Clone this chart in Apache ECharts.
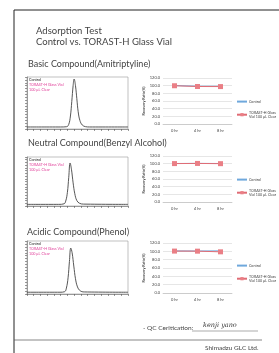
<!DOCTYPE html>
<html>
<head>
<meta charset="utf-8">
<script src="https://cdn.jsdelivr.net/npm/echarts@6/dist/echarts.min.js"></script>
<style>
html,body{margin:0;padding:0;background:#fff;}
#main{width:279px;height:353px;}
</style>
</head>
<body>
<div id="main"></div>
<script>
// 回收率 (%)
var hours = ['0 hr', '4 hr', '8 hr'];
var basicControl = [100.2, 98.6, 98.4];
var basicTorast = [99.8, 97.8, 97.6];
var neutralControl = [100.4, 100.8, 100.4];
var neutralTorast = [100.2, 100.6, 100.0];
var acidicControl = [101.0, 100.8, 101.2];
var acidicTorast = [100.6, 100.4, 98.8];

// chromatogram traces [time, response]
var basicPeak = [[0,0.7],[5,0.7],[5.9,0.8],[6.2,1.6],[6.45,4.5],[6.65,9.5],[6.85,15],[7.0,17.3],[7.2,15],[7.4,10.5],[7.6,6],[7.85,3],[8.2,1.4],[8.7,0.8],[9.3,0.7],[15,0.7]];
var neutralPeak = [[0,0.6],[4.7,0.6],[5.5,0.8],[5.75,1.8],[6.0,5],[6.2,10.5],[6.4,15.8],[6.6,13.5],[6.85,8.5],[7.1,4.5],[7.4,2],[7.8,1],[8.4,0.7],[15,0.6]];
var acidicPeak = [[0,0.6],[4.9,0.6],[5.6,0.8],[5.85,2],[6.1,5.5],[6.3,11],[6.5,15.6],[6.7,14],[6.95,9.5],[7.2,5.2],[7.5,2.4],[7.9,1.1],[8.5,0.7],[15,0.6]];

var chart = echarts.init(document.getElementById('main'));
var txt = '#444';

function chromGrid(top, bottom){
    return {left:27, right:151, top:top, bottom:bottom, show:true, borderColor:'#999', borderWidth:0.6};
}
function lineGrid(top, bottom){
    return {left:163, right:47, top:top, bottom:bottom};
}
var grids = [
    chromGrid(77, 224), chromGrid(157, 147), chromGrid(241, 59),
    lineGrid(78, 229), lineGrid(156, 151), lineGrid(243, 60)
];

var xAxes = [], yAxes = [], series = [], legends = [];
for (var i = 0; i < 3; i++) {
    xAxes.push({gridIndex:i, type:'value', min:0, max:15, interval:1,
        axisLine:{lineStyle:{color:'#666', width:0.6}},
        axisTick:{inside:false, length:2, lineStyle:{color:'#555', width:0.6}},
        axisLabel:{show:false}, splitLine:{show:false}});
    yAxes.push({gridIndex:i, type:'value', min:0, max:18, interval:1,
        axisLine:{show:true, lineStyle:{color:'#666', width:0.6}},
        axisTick:{show:true, length:2, lineStyle:{color:'#555', width:0.6}},
        axisLabel:{show:false}, splitLine:{show:false}});
}
for (var j = 0; j < 3; j++) {
    xAxes.push({gridIndex:3 + j, type:'category', data:hours, boundaryGap:true,
        axisLine:{lineStyle:{color:'#bbb', width:0.6}}, axisTick:{show:false},
        axisLabel:{fontSize:4, color:txt, margin:5, fontFamily:'Lato'}});
    yAxes.push({gridIndex:3 + j, type:'value', min:0, max:120, interval:20,
        name:'Recovery Ratio(%)', nameLocation:'middle', nameGap:13, nameRotate:90,
        nameTextStyle:{fontSize:3.6, fontWeight:'bold', color:txt, fontFamily:'Lato'},
        axisLine:{show:false}, axisTick:{show:false},
        axisLabel:{fontSize:4, color:txt, margin:3, fontFamily:'Lato',
            formatter:function(v){return v.toFixed(1);}},
        splitLine:{lineStyle:{color:'#ccc', width:0.5}}});
}
var peaks = [basicPeak, neutralPeak, acidicPeak];
peaks.forEach(function(p, k){
    series.push({type:'line', xAxisIndex:k, yAxisIndex:k, data:p, smooth:0.4,
        showSymbol:false, lineStyle:{color:'#444', width:0.9}, silent:true});
});
var ctrl = [basicControl, neutralControl, acidicControl];
var tor = [basicTorast, neutralTorast, acidicTorast];
var legendTops = [99, 177, 263];
for (var m = 0; m < 3; m++) {
    series.push({name:'Control', type:'line', xAxisIndex:3 + m, yAxisIndex:3 + m,
        data:ctrl[m], showSymbol:false, lineStyle:{color:'#6fa8dc', width:1}, itemStyle:{color:'#6fa8dc'}});
    series.push({name:'TORAST-H Glass\nVial 100 μL Clear', type:'line', xAxisIndex:3 + m, yAxisIndex:3 + m,
        data:tor[m], symbol:'rect', symbolSize:5, lineStyle:{color:'#e06c75', width:1}, itemStyle:{color:'#ea7f86'}});
    legends.push({left:236, top:legendTops[m], padding:0, orient:'vertical', itemGap:6, itemWidth:10, itemHeight:4,
        textStyle:{fontSize:3.6, color:txt, fontFamily:'Lato', lineHeight:4.5, padding:[0,0,0,-3]},
        data:[{name:'Control', itemStyle:{opacity:0}}, 'TORAST-H Glass\nVial 100 μL Clear'], selectedMode:false});
}

function label(x, y, s, size, extra){
    var st = {text:s, fontSize:size, fill:txt, fontFamily:'Lato'};
    for (var k in (extra || {})) st[k] = extra[k];
    return {type:'text', left:x, top:y, style:st, silent:true};
}
var graphics = [
    {type:'line', shape:{x1:14, y1:10, x2:279, y2:10}, style:{stroke:'#222', lineWidth:1}},
    {type:'line', shape:{x1:14, y1:10, x2:14, y2:353}, style:{stroke:'#222', lineWidth:1}},
    {type:'line', shape:{x1:14, y1:340, x2:262, y2:340}, style:{stroke:'#555', lineWidth:0.7}},
    label(36, 26, 'Adsorption Test', 9.5),
    label(36, 37, 'Control vs. TORAST-H Glass Vial', 9.5),
    label(28, 60, 'Basic Compound(Amitriptyline)', 9),
    label(28, 139, 'Neutral Compound(Benzyl Alcohol)', 9),
    label(27, 228, 'Acidic Compound(Phenol)', 9),
    label(29, 78, 'Control', 3.7, {fill:'#222'}),
    label(29, 83, 'TORAST-H Glass Vial', 3.7, {fill:'#e0409a'}),
    label(29, 88, '100 μL Clear', 3.7, {fill:'#e0409a'}),
    label(29, 158, 'Control', 3.7, {fill:'#222'}),
    label(29, 163, 'TORAST-H Glass Vial', 3.7, {fill:'#e0409a'}),
    label(29, 168, '100 μL Clear', 3.7, {fill:'#e0409a'}),
    label(29, 242, 'Control', 3.7, {fill:'#222'}),
    label(29, 247, 'TORAST-H Glass Vial', 3.7, {fill:'#e0409a'}),
    label(29, 252, '100 μL Clear', 3.7, {fill:'#e0409a'}),
    label(143, 324, '- QC Ceritication:', 6.5),
    {type:'line', shape:{x1:192, y1:331, x2:258, y2:331}, style:{stroke:'#555', lineWidth:0.5}},
    label(203, 322, 'kenji yano', 6.5, {fontFamily:'DejaVu Serif', fontStyle:'italic', fill:'#333'}),
    label(205, 344, 'Shimadzu GLC Ltd.', 6.5)
];

chart.setOption({
    animation:false,
    grid:grids,
    xAxis:xAxes,
    yAxis:yAxes,
    legend:legends,
    series:series,
    graphic:graphics
});
</script>
</body>
</html>
